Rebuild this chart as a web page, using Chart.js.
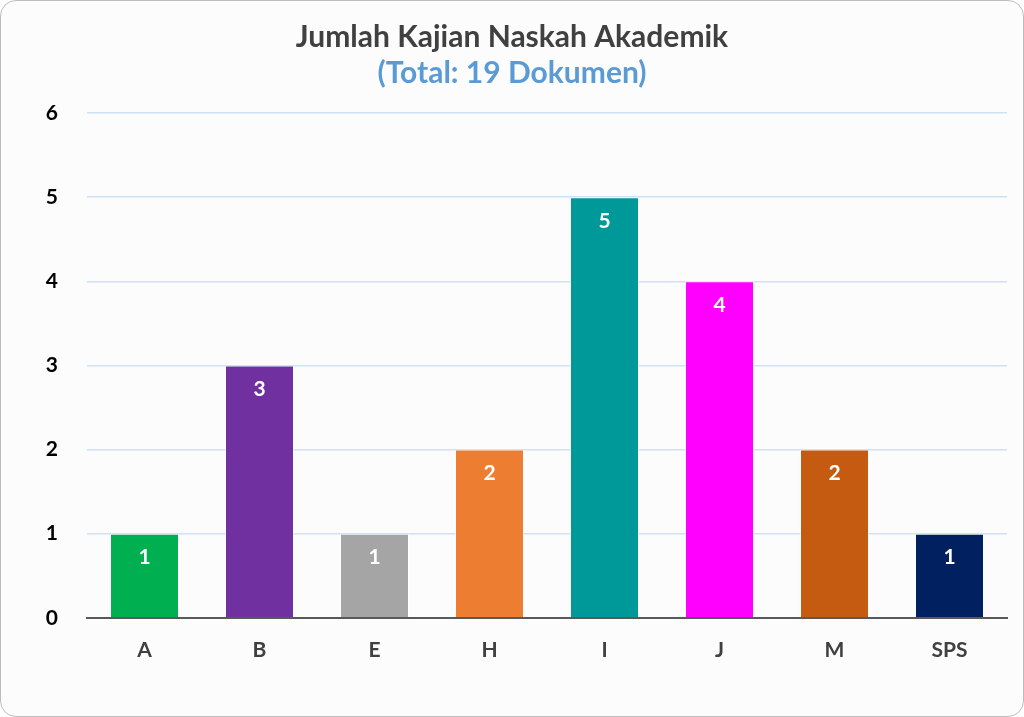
<!DOCTYPE html>
<html>
<head>
<meta charset="utf-8">
<script src="https://cdn.jsdelivr.net/npm/chart.js@4/dist/chart.umd.min.js"></script>
<style>
  html, body { margin: 0; padding: 0; background: #ffffff; }
  #card {
    width: 1024px; height: 717px; box-sizing: border-box;
    border: 1px solid #bdbdbd; border-radius: 16px; background: #fcfcfc;
    position: relative; overflow: hidden;
  }
  #wrap { position: absolute; left: -1px; top: -1px; width: 1024px; height: 717px; }
</style>
</head>
<body>
<div id="card"><div id="wrap"><canvas id="myChart"></canvas></div></div>
<script>
const categories = ["A", "B", "E", "H", "I", "J", "M", "SPS"];
const counts = [1, 3, 1, 2, 5, 4, 2, 1];
const barColors = ['#00b050', '#7030a0', '#a5a5a5', '#ed7d31', '#009999', '#ff00ff', '#c55a11', '#002060'];
const yTicks = [0, 1, 2, 3, 4, 5, 6];
const titleText = "Jumlah Kajian Naskah Akademik";
const subtitleText = "(Total: 19 Dokumen)";

const FONT = "Lato, 'Open Sans', sans-serif";

// draws the value inside the top of each bar
const valueLabels = {
    id: 'valueLabels',
    afterDatasetsDraw(chart) {
        let ctx = chart.ctx;
        let meta = chart.getDatasetMeta(0);
        ctx.save();
        ctx.fillStyle = '#ffffff';
        ctx.font = "bold 21px " + FONT;
        ctx.textAlign = 'center';
        ctx.textBaseline = 'middle';
        meta.data.forEach((bar, i) => {
            ctx.fillText(String(counts[i]), bar.x, bar.y + 24);
        });
        ctx.restore();
    }
};

document.addEventListener('DOMContentLoaded', e => {
    let ctx = document.getElementById('myChart').getContext('2d');
    new Chart(ctx, {
        type: 'bar',
        data: {
            labels: categories,
            datasets: [{
                data: counts,
                backgroundColor: barColors,
                borderColor: 'rgba(255,255,255,0.5)',
                borderWidth: 1,
                categoryPercentage: 1,
                barPercentage: 0.6
            }]
        },
        options: {
            responsive: true,
            maintainAspectRatio: false,
            animation: false,
            layout: { padding: { left: 17, right: 17, top: 0, bottom: 34 } },
            plugins: {
                legend: { display: false },
                tooltip: { enabled: false },
                title: {
                    display: true,
                    text: titleText,
                    color: '#404040',
                    font: { family: FONT, size: 30, weight: 'bold', lineHeight: 1.2 },
                    padding: { top: 19, bottom: 0 }
                },
                subtitle: {
                    display: true,
                    text: subtitleText,
                    color: '#5b9bd5',
                    font: { family: FONT, size: 30, weight: 'bold', lineHeight: 1.2 },
                    padding: { top: 0, bottom: 22 }
                }
            },
            scales: {
                x: {
                    grid: { display: false, drawTicks: false },
                    border: { display: true, color: '#595959', width: 2 },
                    ticks: {
                        color: '#404040',
                        font: { family: FONT, size: 21, weight: 'bold' },
                        padding: 20
                    }
                },
                y: {
                    min: 0,
                    max: 6,
                    afterFit(scale) { scale.width = 70; },
                    afterBuildTicks(scale) { scale.ticks = yTicks.map(v => ({ value: v })); },
                    grid: {
                        drawTicks: false,
                        color: c => c.tick && c.tick.value === 0 ? 'rgba(0,0,0,0)' : '#cfe2f3',
                        lineWidth: 1.5
                    },
                    border: { display: false },
                    ticks: {
                        color: '#000000',
                        font: { family: FONT, size: 21, weight: 'bold' },
                        padding: 29
                    }
                }
            }
        },
        plugins: [valueLabels]
    });
});
</script>
</body>
</html>
